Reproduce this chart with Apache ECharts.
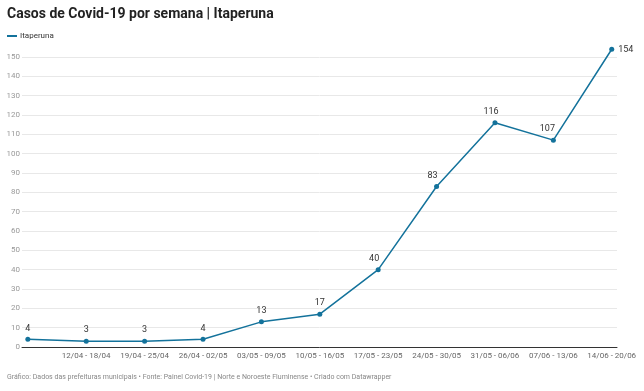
<!DOCTYPE html>
<html><head><meta charset="utf-8">
<script src="https://cdn.jsdelivr.net/npm/echarts@6/dist/echarts.min.js"></script>
<style>html,body{margin:0;padding:0;background:#fff}#c{width:644px;height:391px}</style>
</head><body><div id="c"></div>
<script>
const categories = ["05/04 - 11/04","12/04 - 18/04","19/04 - 25/04","26/04 - 02/05","03/05 - 09/05","10/05 - 16/05","17/05 - 23/05","24/05 - 30/05","31/05 - 06/06","07/06 - 13/06","14/06 - 20/06"];
const cases = [4,3,3,4,13,17,40,83,116,107,154];
const seriesName = "Itaperuna";
const titleText = "Casos de Covid-19 por semana | Itaperuna";
const footerText = "Gráfico: Dados das prefeituras municipais • Fonte: Painel Covid-19 | Norte e Noroeste Fluminense • Criado com Datawrapper";

const chart = echarts.init(document.getElementById('c'));
const F = 'Roboto, sans-serif';
const labelPos = ['top','top','top','top','top','top','top','top','top','top','right'];
const labelDx = [0,0,0,0,0,0,-4,-4,-4,-6,0];
chart.setOption({
  animation:false,
  title:{text:titleText,left:7,top:7,padding:0,textStyle:{fontFamily:F,fontSize:14,fontWeight:'bold',color:'#222'}},
  legend:{left:2,top:27,itemWidth:10,itemHeight:2,itemGap:4,icon:'rect',
    textStyle:{fontFamily:F,fontSize:8,color:'#333',padding:[0,0,0,-2]},data:[seriesName]},
  graphic:[{type:'text',left:7,top:374,style:{text:footerText,fontFamily:F,fontSize:7,fill:'#888'}}],
  grid:{left:22,right:27,top:57,bottom:44},
  xAxis:{type:'value',min:-0.1,max:10.09,
    axisLine:{show:true,lineStyle:{color:'#333',width:1}},
    axisTick:{show:false},splitLine:{show:false},
    axisLabel:{customValues:[1,2,3,4,5,6,7,8,9,10],formatter:v=>categories[Math.round(v)],
      fontFamily:F,fontSize:8,color:'#666',margin:5}},
  yAxis:{type:'value',min:0,max:150,interval:10,
    axisLine:{show:false},axisTick:{show:false},
    axisLabel:{fontFamily:F,fontSize:8,color:'#999',margin:2},
    splitLine:{lineStyle:{color:'#e8e8e8',width:1}}},
  series:[{name:seriesName,type:'line',clip:false,
    data:cases.map((v,i)=>({value:[i,v],label:{position:labelPos[i],offset:[labelDx[i],0]}})),
    symbol:'circle',symbolSize:5,
    itemStyle:{color:'#13729b'},lineStyle:{color:'#13729b',width:1.5},
    label:{show:true,formatter:p=>p.value[1],fontFamily:F,fontSize:9,color:'#333',distance:4}}]
});
</script></body></html>
